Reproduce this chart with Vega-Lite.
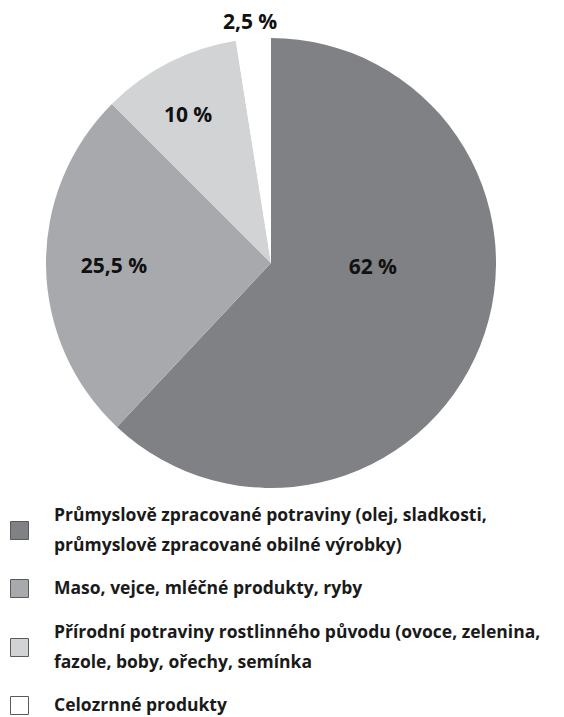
{
  "$schema": "https://vega.github.io/schema/vega-lite/v6.json",
  "width": 542,
  "height": 526,
  "padding": 0,
  "background": "white",
  "config": {"view": {"stroke": null}, "font": "Open Sans"},
  "data": {
    "values": [
      {"kategorie": "Průmyslově zpracované potraviny (olej, sladkosti,\nprůmyslově zpracované obilné výrobky)", "podil": 62, "popisek": "62 %", "poradi": 1},
      {"kategorie": "Maso, vejce, mléčné produkty, ryby", "podil": 25.5, "popisek": "25,5 %", "poradi": 2},
      {"kategorie": "Přírodní potraviny rostlinného původu (ovoce, zelenina,\nfazole, boby, ořechy, semínka", "podil": 10, "popisek": "10 %", "poradi": 3},
      {"kategorie": "Celozrnné produkty", "podil": 2.5, "popisek": "2,5 %", "poradi": 4}
    ]
  },
  "encoding": {
    "theta": {"field": "podil", "type": "quantitative", "stack": true},
    "order": {"field": "poradi", "type": "quantitative"}
  },
  "layer": [
    {
      "mark": {"type": "arc", "outerRadius": 225},
      "encoding": {
        "color": {
          "field": "kategorie",
          "type": "nominal",
          "scale": {
            "domain": [
              "Průmyslově zpracované potraviny (olej, sladkosti,\nprůmyslově zpracované obilné výrobky)",
              "Maso, vejce, mléčné produkty, ryby",
              "Přírodní potraviny rostlinného původu (ovoce, zelenina,\nfazole, boby, ořechy, semínka",
              "Celozrnné produkty"
            ],
            "range": ["#808184", "#a8a9ad", "#d2d3d5", "#ffffff"]
          },
          "legend": {
            "orient": "none",
            "legendX": 10,
            "legendY": 521,
            "direction": "vertical",
            "title": null,
            "padding": 0,
            "symbolType": "square",
            "symbolSize": 324,
            "symbolStrokeColor": "#5a5a5a",
            "symbolStrokeWidth": 1,
            "symbolOpacity": 1,
            "labelFont": "Open Sans",
            "labelFontSize": 17.5,
            "labelFontWeight": "bold",
            "labelColor": "#1a1a1a",
            "labelOffset": 25,
            "labelLimit": 0,
            "labelBaseline": "middle",
            "rowPadding": 23,
            "labelExpr": "split(datum.label, '\\n')",
            "encode": {"labels": {"update": {"lineHeight": {"value": 30}, "dy": {"signal": "indexof(datum.label, '\\n') >= 0 ? -15 : 0"}}}}
          }
        }
      }
    },
    {
      "mark": {"type": "text", "radius": 102, "dx": 7, "dy": -33, "fontSize": 21, "fontWeight": "bold", "color": "#111111"},
      "encoding": {"text": {"condition": {"test": "datum.poradi == 1", "field": "popisek"}, "value": ""}}
    },
    {
      "mark": {"type": "text", "radius": 157, "dy": 2, "fontSize": 21, "fontWeight": "bold", "color": "#111111"},
      "encoding": {"text": {"condition": {"test": "datum.poradi == 2", "field": "popisek"}, "value": ""}}
    },
    {
      "mark": {"type": "text", "radius": 165, "dx": -8, "fontSize": 21, "fontWeight": "bold", "color": "#111111"},
      "encoding": {"text": {"condition": {"test": "datum.poradi == 3", "field": "popisek"}, "value": ""}}
    },
    {
      "mark": {"type": "text", "radius": 241, "dx": -2, "fontSize": 21, "fontWeight": "bold", "color": "#111111"},
      "encoding": {"text": {"condition": {"test": "datum.poradi == 4", "field": "popisek"}, "value": ""}}
    }
  ]
}
